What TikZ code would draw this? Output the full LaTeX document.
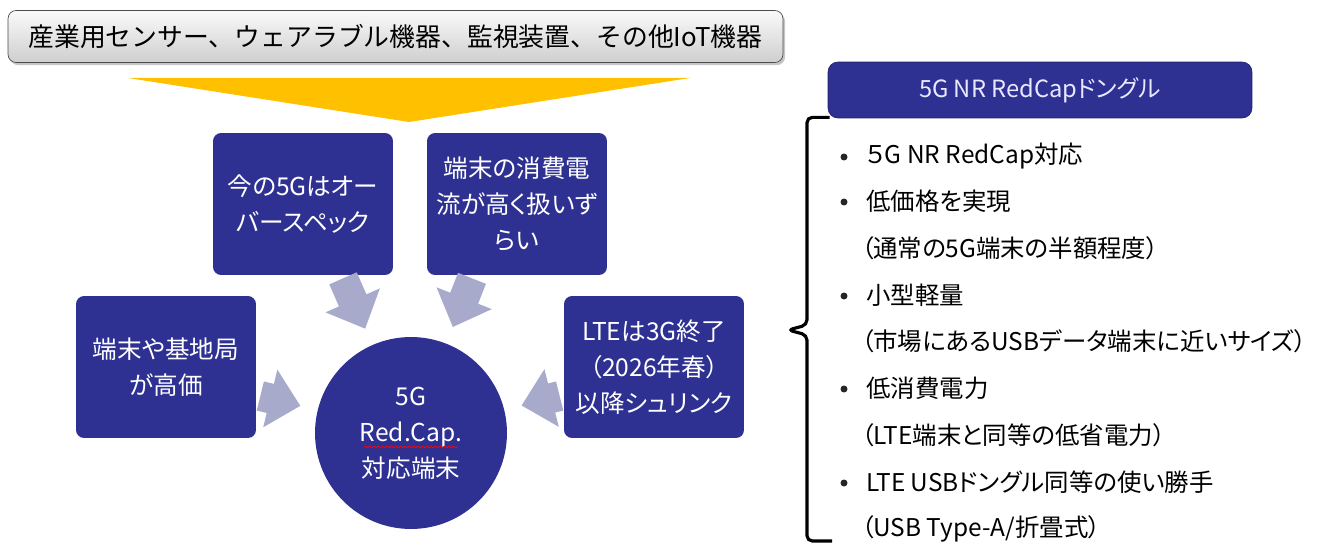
\documentclass[tikz,border=0pt]{standalone}
\usepackage{fontspec}
\setmainfont{Noto Sans CJK JP}[RawFeature={+palt}]
\newfontfamily\plainjp{Noto Sans CJK JP}
\usepackage{tikz}
\usetikzlibrary{shapes,arrows.meta,positioning,calc,shadows,decorations.pathmorphing}
\usepackage{xcolor}
\definecolor{navy}{HTML}{2E3192}
\definecolor{lilac}{HTML}{A8AACB}
\definecolor{gold}{HTML}{FFC000}
\definecolor{hdrtext}{HTML}{E8E8FF}

\begin{document}
\begin{tikzpicture}[x=0.02cm, y=-0.02cm,
  issue/.style={rectangle, rounded corners=0.16cm, fill=navy, text=white, minimum width=3.6cm, minimum height=2.84cm, align=center, font=\fontsize{14}{20.5}\selectfont},
  hubnode/.style={circle, fill=navy, text=white, minimum size=3.84cm, align=center, font=\fontsize{14}{20.5}\selectfont},
  bigarr/.style={-{Triangle[length=0.62cm, width=1.15cm]}, line width=0.6cm, lilac, shorten >=10},
  item/.style={anchor=west, inner sep=0pt, font=\fontsize{13.9}{16}\selectfont},
  dot/.style={circle, fill=black!85, inner sep=0pt, minimum size=0.14cm}
]
  \useasboundingbox (0,0) rectangle (1324,544);
  % devices on top
  \node[rectangle, rounded corners=0.16cm, draw=gray!60!black, top color=gray!4, bottom color=gray!38,
        drop shadow={shadow xshift=1.2pt, shadow yshift=-1.5pt, opacity=0.45},
        minimum width=15.5cm, minimum height=1.04cm, font=\plainjp\fontsize{14.7}{17}\selectfont]
        (dev) at (395.5,36.5) {産業用センサー、ウェアラブル機器、監視装置、その他IoT機器};
  \fill[gold] (128,78) -- (690,78) -- (409,122) -- cycle;

  % reasons and the RedCap device
  \node[issue] (b1) at (303,204) {今の5Gはオー\\バースペック};
  \node[issue] (b2) at (517,204) {端末の消費電\\流が高く扱いず\\らい};
  \node[issue] (b3) at (166,367) {端末や基地局\\が高価};
  \node[issue] (b4) at (654,367) {LTEは3G終了\\（2026年春）\\以降シュリンク};
  \node[hubnode] (hub) at (411,433) {5G\\Red.Cap.\\対応端末};
  \draw[red, line width=0.5pt, decorate, decoration={snake, amplitude=0.5pt, segment length=2.5pt}]
    ($(hub.center)+(-47,14)$) -- ++(94,0);

  \draw[bigarr] ($(b1.south)+(40,3)$) -- (hub);
  \draw[bigarr] ($(b2.south)+(-45,3)$) -- (hub);
  \draw[bigarr] ($(b3.east)+(4,29)$) -- (hub);
  \draw[bigarr] ($(b4.west)+(-4,29)$) -- (hub);

  % dongle panel
  \node[rectangle, rounded corners=0.2cm, fill=navy, draw=navy!70!black, text=hdrtext,
        minimum width=8.48cm, minimum height=1.12cm, font=\fontsize{13.5}{16}\selectfont]
        (dongle) at (1040,90) {5G NR RedCapドングル};
  \draw[line width=1.8pt, rounded corners=3pt] ($(dongle.south west)+(2,-1)$) -| (807,325) -- (788,330) -- (807,335) |- (832,541);

  \node[item] (l1) at (866,156) {５G NR RedCap対応};
  \node[item] (l2) at (866,201) {低価格を実現};
  \node[item] (l3) at (861,248) {（通常の5G端末の半額程度）};
  \node[item] (l4) at (866,295) {小型軽量};
  \node[item] (l5) at (861,341) {（市場にあるUSBデータ端末に近いサイズ）};
  \node[item] (l6) at (866,388) {低消費電力};
  \node[item] (l7) at (861,435) {（LTE端末と同等の低省電力）};
  \node[item] (l8) at (866,482) {LTE USBドングル同等の使い勝手};
  \node[item] (l9) at (861,529) {（USB Type-A/折畳式）};
  \foreach \n in {l1,l2,l4,l6,l8}
    \node[dot] (d\n) at ($(\n.west)+(-22,1)$) {};
\end{tikzpicture}
\end{document}
